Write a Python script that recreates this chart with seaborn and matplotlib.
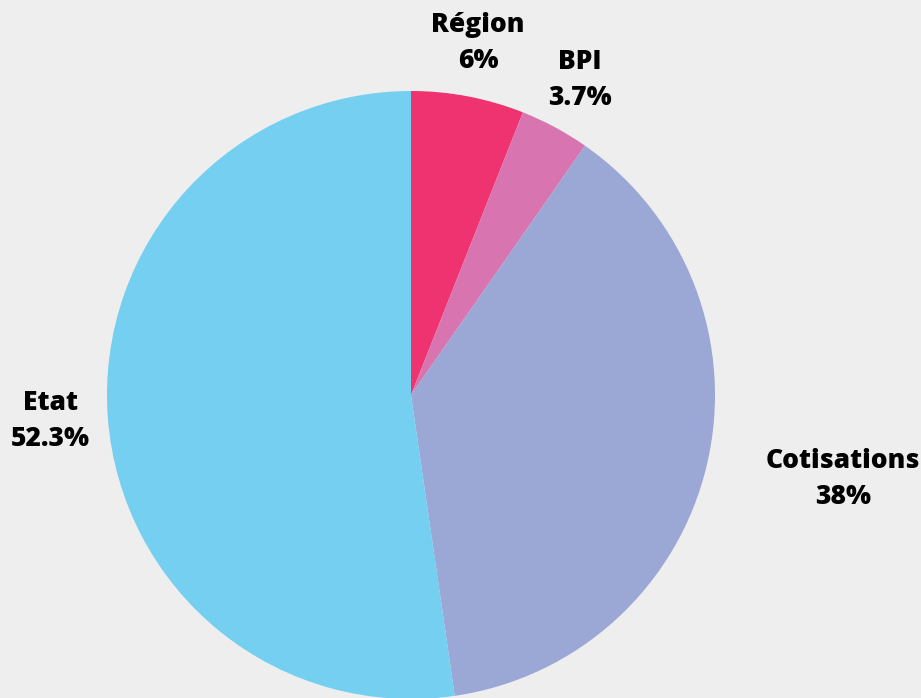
import numpy as np
import matplotlib
matplotlib.use("Agg")
import matplotlib.pyplot as plt
import seaborn as sns

categories = ["Région", "BPI", "Cotisations", "Etat"]
values = [6.0, 3.7, 38.0, 52.3]
value_labels = ["6%", "3.7%", "38%", "52.3%"]
colors = ["#ef3371", "#d875b0", "#9ba7d4", "#74cff0"]
label_dist = [1.18, 1.175, 1.20, 1.19]
label_ha = ["center", "center", "left", "center"]

sns.set_theme(style="white")
plt.rcParams["font.family"] = ["Open Sans", "DejaVu Sans"]

W, H = 921, 698
fig = plt.figure(figsize=(W / 100, H / 100), dpi=100, facecolor="#eeeeee")
ax = fig.add_axes([0, 0, 1, 1])
ax.set_facecolor("#eeeeee")

cx, cy, R = 411, H - 395, 304
wedges, _ = ax.pie(values, colors=sns.color_palette(colors), startangle=90,
                   counterclock=False, center=(cx, cy), radius=R,
                   wedgeprops=dict(linewidth=0), frame=True)

for w, cat, vl, d, ha in zip(wedges, categories, value_labels, label_dist, label_ha):
    th = np.deg2rad((w.theta1 + w.theta2) / 2)
    x = cx + R * d * np.cos(th)
    y = cy + R * d * np.sin(th)
    ax.text(x, y, f"{cat}\n{vl}", ha=ha, va="center", ma="center", fontsize=19,
            fontweight="heavy", color="black", linespacing=1.5)

ax.set_xlim(0, W)
ax.set_ylim(0, H)
ax.set_aspect("equal")
ax.axis("off")
fig.savefig("out.png", dpi=100, facecolor="#eeeeee")
